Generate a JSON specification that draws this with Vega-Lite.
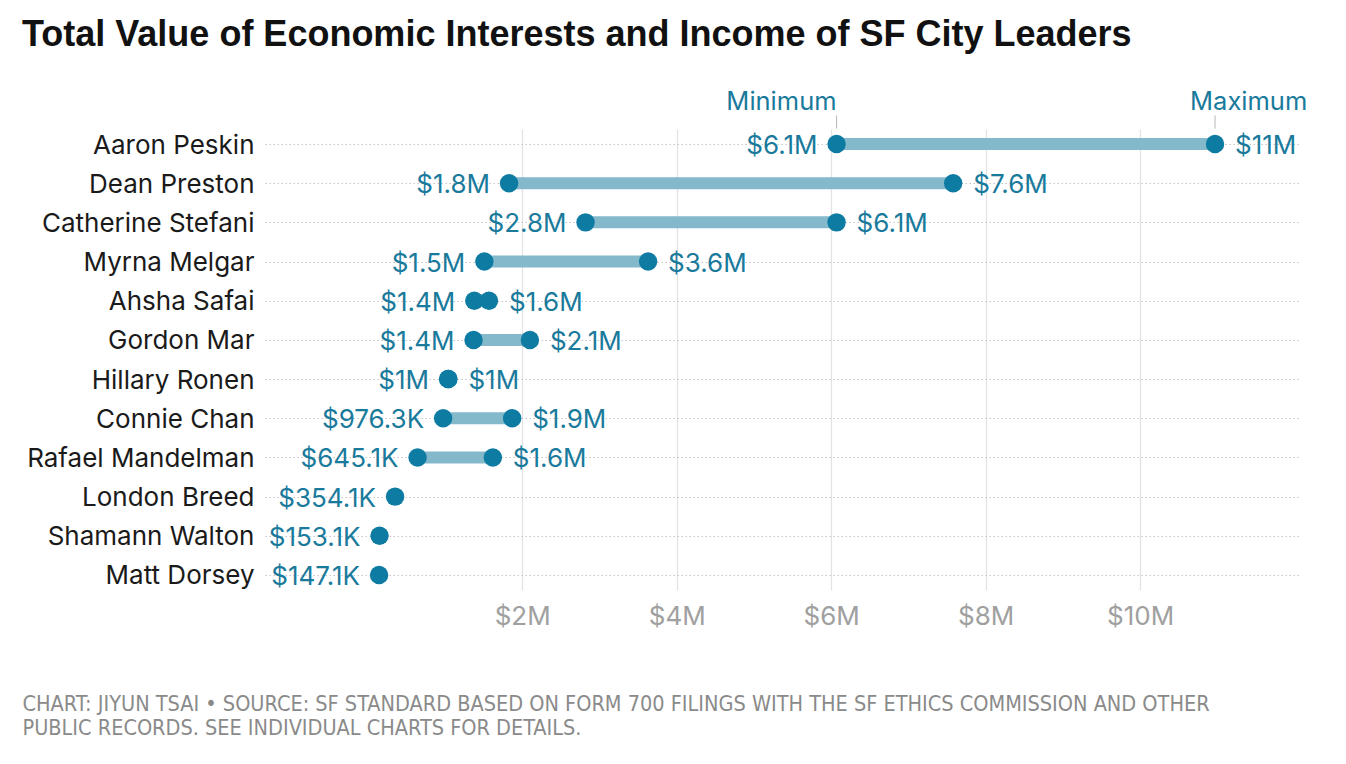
{
  "$schema": "https://vega.github.io/schema/vega-lite/v6.json",
  "autosize": {"type": "none"},
  "width": 1035,
  "height": 461,
  "padding": {"left": 265, "top": 129, "right": 46, "bottom": 174},
  "background": "white",
  "config": {"view": {"stroke": null}},
  "title": {
    "text": "Total Value of Economic Interests and Income of SF City Leaders",
    "anchor": "start",
    "frame": "group",
    "dx": -243,
    "dy": 14,
    "font": "Liberation Sans",
    "fontSize": 36,
    "fontWeight": "bold",
    "color": "#111111",
    "offset": 50
  },
  "data": {
    "values": [
      {"name": "Aaron Peskin", "min": 6070000, "max": 10970000},
      {"name": "Dean Preston", "min": 1830000, "max": 7580000},
      {"name": "Catherine Stefani", "min": 2820000, "max": 6070000},
      {"name": "Myrna Melgar", "min": 1510000, "max": 3630000},
      {"name": "Ahsha Safai", "min": 1380000, "max": 1570000},
      {"name": "Gordon Mar", "min": 1370000, "max": 2100000},
      {"name": "Hillary Ronen", "min": 1040000, "max": 1045000},
      {"name": "Connie Chan", "min": 976300, "max": 1870000},
      {"name": "Rafael Mandelman", "min": 645100, "max": 1620000},
      {"name": "London Breed", "min": 354100, "max": null},
      {"name": "Shamann Walton", "min": 153100, "max": null},
      {"name": "Matt Dorsey", "min": 147100, "max": null}
    ]
  },
  "encoding": {
    "y": {
      "field": "name",
      "type": "nominal",
      "sort": null,
      "title": null,
      "scale": {"type": "point", "padding": 0.383},
      "axis": {
        "domain": false,
        "ticks": false,
        "labelFont": "Inter",
        "labelFontSize": 26,
        "labelColor": "#1a1a1a",
        "labelPadding": 11,
        "labelLimit": 0,
        "labelOffset": 1,
        "grid": true,
        "gridColor": "#c4c4c4",
        "gridDash": [1.5, 2.5],
        "gridWidth": 1
      }
    }
  },
  "layer": [
    {
      "transform": [{"filter": "datum.max != null"}],
      "mark": {"type": "rule", "strokeWidth": 12, "color": "#84b9cc"},
      "encoding": {
        "x": {
          "field": "min",
          "type": "quantitative",
          "scale": {"domain": [-1330000, 12070000], "nice": false, "zero": false},
          "title": ["CHART: JIYUN TSAI • SOURCE: SF STANDARD BASED ON FORM 700 FILINGS WITH THE SF ETHICS COMMISSION AND OTHER", "PUBLIC RECORDS. SEE INDIVIDUAL CHARTS FOR DETAILS."],
          "axis": {
            "values": [2000000, 4000000, 6000000, 8000000, 10000000],
            "labelExpr": "'$' + (datum.value / 1000000) + 'M'",
            "domain": false,
            "ticks": false,
            "labelFont": "Inter",
            "labelFontSize": 26,
            "labelColor": "#a0a0a0",
            "labelPadding": 13,
            "grid": true,
            "gridColor": "#e2e2e2",
            "gridWidth": 1.2,
            "titleFont": "DejaVu Sans Condensed",
            "titleFontSize": 21.5,
            "titleFontWeight": "normal",
            "titleColor": "#8a8a8a",
            "titleAlign": "left",
            "titleAnchor": "start",
            "titleBaseline": "alphabetic",
            "titleX": -243,
            "titleY": 120,
            "titleLineHeight": 24,
            "titleLimit": 0
          }
        },
        "x2": {"field": "max"}
      }
    },
    {
      "mark": {"type": "circle", "size": 340, "color": "#0e7ba2", "opacity": 1},
      "encoding": {"x": {"field": "min", "type": "quantitative"}}
    },
    {
      "transform": [{"filter": "datum.max != null"}],
      "mark": {"type": "circle", "size": 340, "color": "#0e7ba2", "opacity": 1},
      "encoding": {"x": {"field": "max", "type": "quantitative"}}
    },
    {
      "mark": {
        "type": "text",
        "align": "right",
        "baseline": "middle",
        "dx": -19,
        "dy": 2,
        "font": "Inter",
        "fontSize": 26,
        "color": "#1a7a9c",
        "text": {"expr": "datum.min >= 1000000 ? '$' + format(datum.min / 1000000, '.1~f') + 'M' : '$' + format(datum.min / 1000, '.1~f') + 'K'"}
      },
      "encoding": {"x": {"field": "min", "type": "quantitative"}}
    },
    {
      "transform": [{"filter": "datum.max != null"}],
      "mark": {
        "type": "text",
        "align": "left",
        "baseline": "middle",
        "dx": 20,
        "dy": 2,
        "font": "Inter",
        "fontSize": 26,
        "color": "#1a7a9c",
        "text": {"expr": "datum.max >= 1000000 ? '$' + format(datum.max / 1000000, '.1~f') + 'M' : '$' + format(datum.max / 1000, '.1~f') + 'K'"}
      },
      "encoding": {"x": {"field": "max", "type": "quantitative"}}
    },
    {
      "transform": [{"filter": "datum.name == 'Aaron Peskin'"}],
      "mark": {"type": "tick", "size": 13, "thickness": 1, "color": "#999999", "yOffset": -22},
      "encoding": {"x": {"field": "min", "type": "quantitative"}}
    },
    {
      "transform": [{"filter": "datum.name == 'Aaron Peskin'"}],
      "mark": {"type": "tick", "size": 13, "thickness": 1, "color": "#999999", "yOffset": -22},
      "encoding": {"x": {"field": "max", "type": "quantitative"}}
    },
    {
      "transform": [{"filter": "datum.name == 'Aaron Peskin'"}],
      "mark": {
        "type": "text",
        "align": "right",
        "baseline": "middle",
        "dx": 0,
        "dy": -42,
        "font": "Inter",
        "fontSize": 25.5,
        "color": "#1a7a9c",
        "text": "Minimum"
      },
      "encoding": {"x": {"field": "min", "type": "quantitative"}}
    },
    {
      "transform": [{"filter": "datum.name == 'Aaron Peskin'"}],
      "mark": {
        "type": "text",
        "align": "left",
        "baseline": "middle",
        "dx": -25,
        "dy": -42,
        "font": "Inter",
        "fontSize": 25.5,
        "color": "#1a7a9c",
        "text": "Maximum"
      },
      "encoding": {"x": {"field": "max", "type": "quantitative"}}
    }
  ]
}
